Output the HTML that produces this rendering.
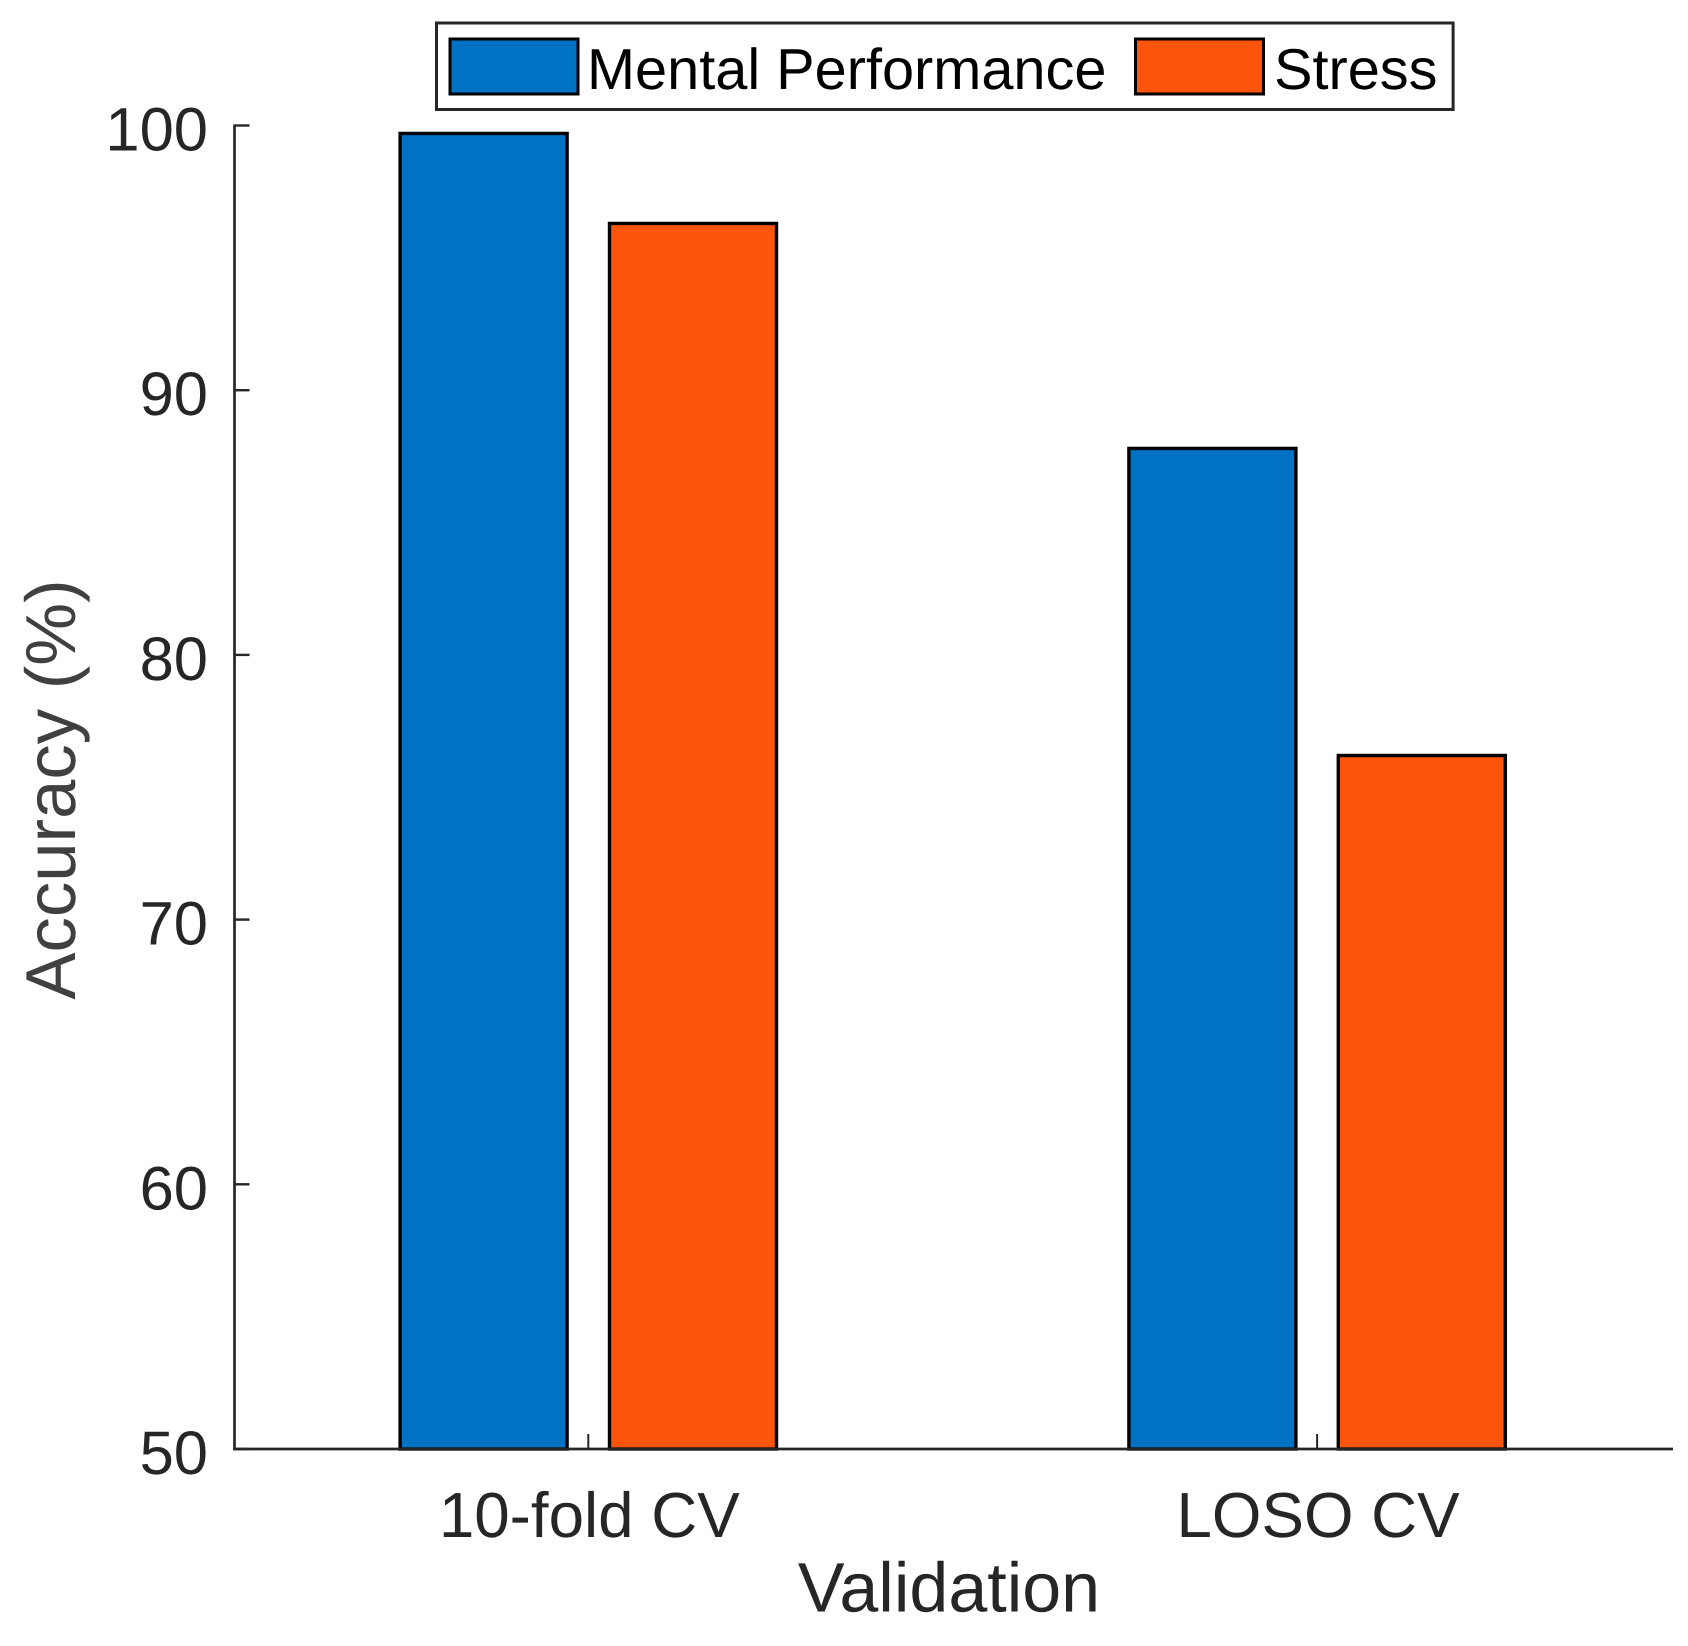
<!DOCTYPE html>
<html lang="en">
<head>
<meta charset="utf-8">
<title>Accuracy by validation method</title>
<style>
  html, body { margin: 0; padding: 0; background: #fff; }
  body { width: 1688px; height: 1646px; overflow: hidden; }
  svg { display: block; font-family: "Liberation Sans", Arial, sans-serif; text-rendering: geometricPrecision; }
</style>
</head>
<body>
<svg id="chart" xmlns="http://www.w3.org/2000/svg" width="1688" height="1646" viewBox="0 0 1688 1646">
  <rect x="0" y="0" width="1688" height="1646" fill="#ffffff"/>
  <g id="bars"></g>
  <g id="axes"></g>
  <text transform="translate(75 789.5) rotate(-90)" text-anchor="middle" font-size="70.7" fill="#404040">Accuracy (%)</text>
  <text x="949" y="1611.5" text-anchor="middle" font-size="70" fill="#262626">Validation</text>
  <g>
    <rect x="436.5" y="23" width="1016.6" height="86.5" fill="#ffffff" stroke="#262626" stroke-width="3"/>
    <g>
      <rect x="450" y="39" width="128" height="55" fill="#0072c4" stroke="#000000" stroke-width="3"/>
      <text x="587" y="89" font-size="57.7" fill="#000000">Mental Performance</text>
    </g>
    <g>
      <rect x="1135.5" y="39" width="128" height="55" fill="#fc540a" stroke="#000000" stroke-width="3"/>
      <text x="1274" y="89" font-size="57.7" fill="#000000">Stress</text>
    </g>
  </g>
</svg>
<script>
const categories = ['10-fold CV', 'LOSO CV'];
const mentalPerformance = [99.7, 87.8];
const stress = [96.3, 76.2];
const yTickLabels = [50, 60, 70, 80, 90, 100];

const NS = 'http://www.w3.org/2000/svg';
const yMin = 50;
const yMax = 100;
const plotLeft = 234.5;
const plotRight = 1673;
const plotTop = 125.5;
const plotBottom = 1449;
const firstCategoryX = 588.3;
const categorySpacing = 728.8;
const barOffset = 104.7;
const barWidth = 167;
const tickLength = 15;

function yScale(value) {
  return plotBottom - (value - yMin) / (yMax - yMin) * (plotBottom - plotTop);
}
function xScale(index) {
  return firstCategoryX + index * categorySpacing;
}
function create(parent, tag, attrs, text) {
  const el = document.createElementNS(NS, tag);
  Object.keys(attrs).forEach(function (k) { el.setAttribute(k, attrs[k]); });
  if (text !== undefined) el.textContent = text;
  parent.appendChild(el);
  return el;
}

const barsLayer = document.getElementById('bars');
const axesLayer = document.getElementById('axes');

categories.forEach(function (category, i) {
  const blue = create(barsLayer, 'rect', {
    x: xScale(i) - barOffset - barWidth / 2,
    y: yScale(mentalPerformance[i]),
    width: barWidth,
    height: plotBottom - yScale(mentalPerformance[i]),
    fill: '#0072c4', stroke: '#000000', 'stroke-width': 3.4
  });
  
  

  const orange = create(barsLayer, 'rect', {
    x: xScale(i) + barOffset - barWidth / 2,
    y: yScale(stress[i]),
    width: barWidth,
    height: plotBottom - yScale(stress[i]),
    fill: '#fc540a', stroke: '#000000', 'stroke-width': 3.4
  });
  
  

  const tick = create(axesLayer, 'line', {
    x1: xScale(i), x2: xScale(i),
    y1: plotBottom, y2: plotBottom - tickLength,
    stroke: '#262626', 'stroke-width': 2
  });
  
  

  const label = create(axesLayer, 'text', {
    x: xScale(i) + 1, y: 1537,
    'text-anchor': 'middle', 'font-size': 63.7, fill: '#262626'
  }, category);
  
  
});

const yAxisLine = create(axesLayer, 'line', {
  x1: plotLeft, x2: plotLeft, y1: plotTop - 1, y2: plotBottom + 1.3,
  stroke: '#262626', 'stroke-width': 2.7
});



const xAxisLine = create(axesLayer, 'line', {
  x1: plotLeft - 1.3, x2: plotRight, y1: plotBottom, y2: plotBottom,
  stroke: '#262626', 'stroke-width': 2.7
});



yTickLabels.forEach(function (value) {
  const tick = create(axesLayer, 'line', {
    x1: plotLeft, x2: plotLeft + tickLength,
    y1: yScale(value), y2: yScale(value),
    stroke: '#262626', 'stroke-width': 2.4
  });
  
  

  const label = create(axesLayer, 'text', {
    x: 208, y: yScale(value) + 25,
    'text-anchor': 'end', 'font-size': 61.5, fill: '#262626'
  }, String(value));
  
  
});
</script>
</body>
</html>
